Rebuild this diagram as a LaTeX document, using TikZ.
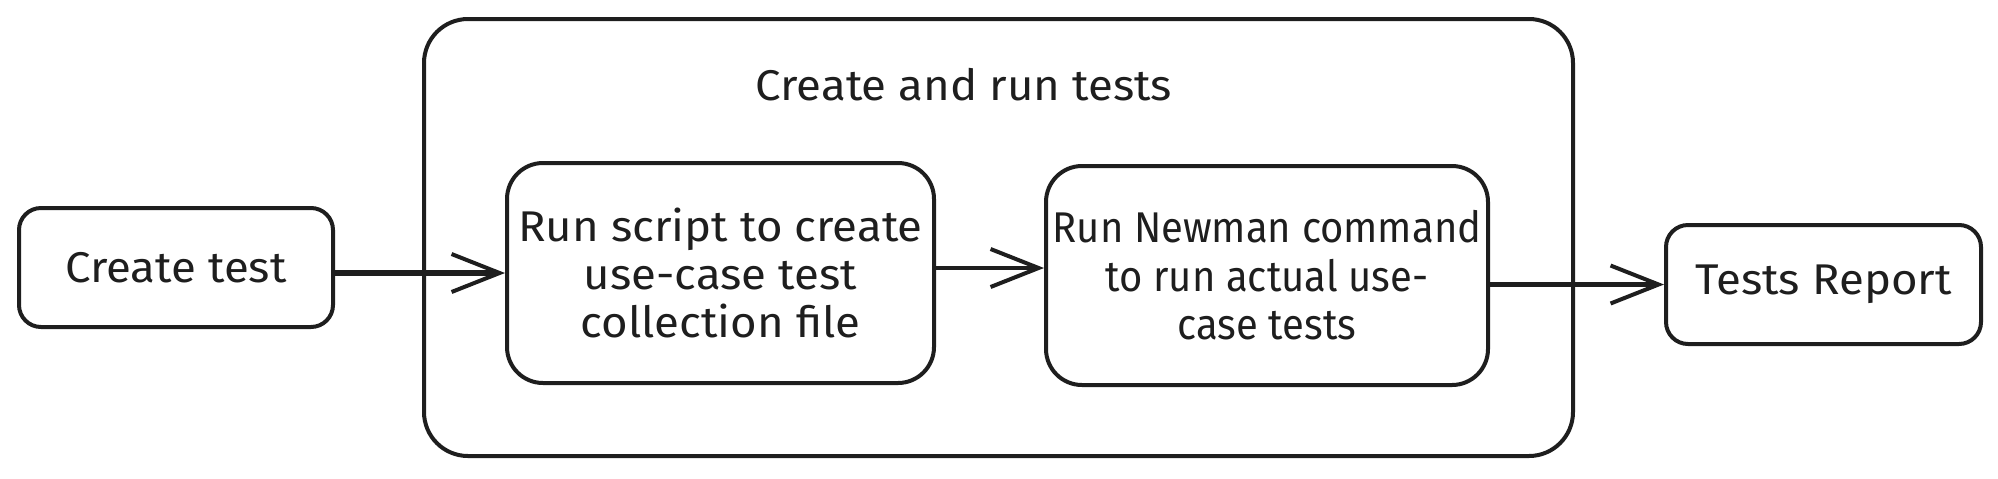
\documentclass[tikz,border=0pt]{standalone}
\usepackage{fontspec}
\setmainfont[FakeStretch=1.06]{Fira Sans}
\newfontfamily\narrowfont[FakeStretch=0.93]{Fira Sans}
\usetikzlibrary{arrows.meta}
\definecolor{ink}{HTML}{1E1E1E}
\tikzset{
  box/.style={draw=ink, line width=2pt, rounded corners=11pt, align=center, inner sep=0pt,
     text=ink, font=\fontsize{21.5}{24.2}\selectfont},
  bigbox/.style={draw=ink, line width=2pt, rounded corners=22pt, inner sep=0pt},
  label/.style={font=\fontsize{21.5}{24.2}\selectfont, text=ink, inner sep=0pt},
  conn/.style={draw=ink, line width=2.2pt, -{Straight Barb[length=24pt,width=19pt,line width=2pt]}}
}
\begin{document}
\begin{tikzpicture}[x=0.5pt,y=-0.5pt]
\useasboundingbox (0,0) rectangle (1998,478);
\node[bigbox, minimum width=574.5pt, minimum height=218.5pt] (outer) at (998.5,237.5) {};
\node[label] (title) at (964,85) {Create and run tests};
\node[box, minimum width=157pt, minimum height=59.5pt] (ct) at (176,267.5) {Create test};
\node[box, rounded corners=18pt, minimum width=213.5pt, minimum height=110pt] (b2) at (720.5,273) {Run script to create\\use-case test\\collection file};
\node[box, rounded corners=18pt, minimum width=221pt, minimum height=109.5pt,
  font=\narrowfont\fontsize{21.5}{24.2}\selectfont] (b3) at (1267,275.5) {Run Newman command\\to run actual use-\\case tests};
\node[box, minimum width=157.5pt, minimum height=59.5pt] (tr) at (1823.5,284.5) {Tests Report};
\draw[conn, line width=2.6pt] (ct.east |- b2.west) -- (b2.west);
\draw[conn] (b2.east |- 0,268) -- (b3.west |- 0,268);
\draw[conn] (b3.east |- tr.west) -- (tr.west);
\end{tikzpicture}
\end{document}
